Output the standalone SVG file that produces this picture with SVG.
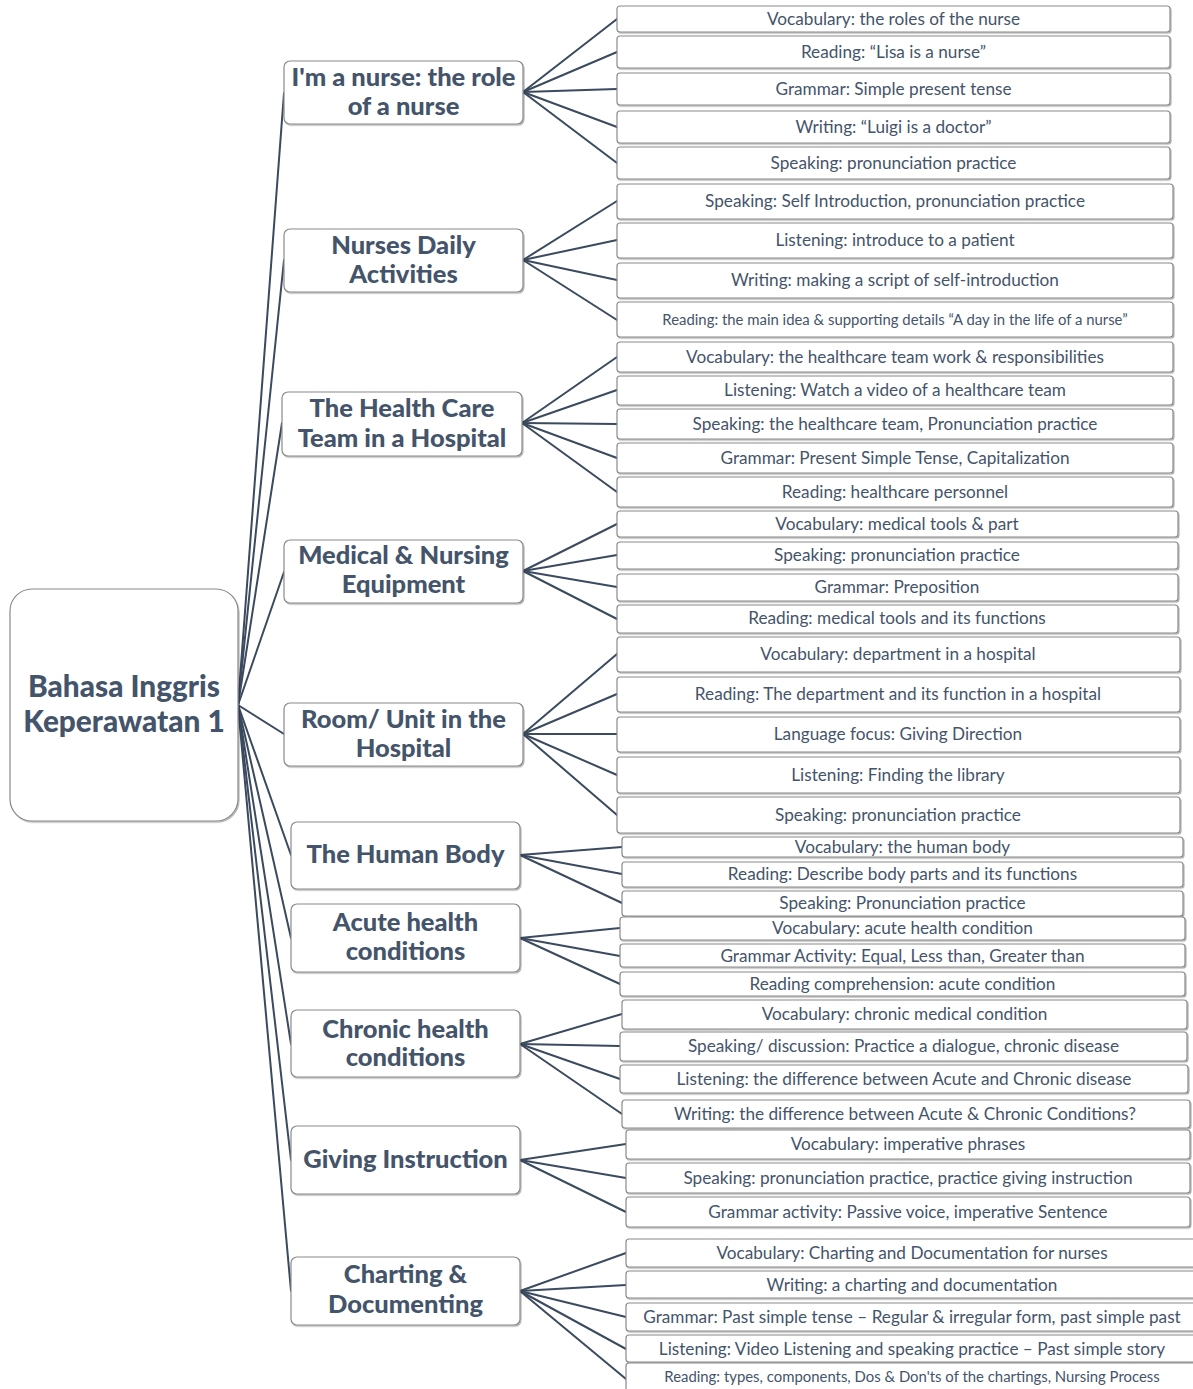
<svg xmlns="http://www.w3.org/2000/svg" width="1193" height="1389" viewBox="0 0 1193 1389">
<defs>
<filter id="sh" x="-5%" y="-20%" width="110%" height="150%">
<feDropShadow dx="1" dy="1.2" stdDeviation="0.7" flood-color="#000" flood-opacity="0.3"/>
</filter>
<style>
.bg{fill:#fff}
.box{fill:#fff;stroke:#8a8a8a;stroke-width:1.2;filter:url(#sh)}
.conn line{stroke:#3b4a5e;stroke-width:2;stroke-linecap:round}
text{font-family:Lato,"Liberation Sans",sans-serif;fill:#44546a;text-anchor:middle}
.c{font-size:17.2px}
.cs{font-size:14.9px}
.t{font-size:25.5px;font-weight:900}
.m{font-size:29.8px;font-weight:900}
</style>
</defs>
<rect class="bg" x="0" y="0" width="1193" height="1389"/>
<g id="connectors" class="conn">
<line x1="238" y1="705" x2="284" y2="93"/>
<line x1="238" y1="705" x2="284" y2="260"/>
<line x1="238" y1="705" x2="282" y2="423"/>
<line x1="238" y1="705" x2="284" y2="572"/>
<line x1="238" y1="705" x2="284" y2="734"/>
<line x1="238" y1="705" x2="291" y2="855"/>
<line x1="238" y1="705" x2="291" y2="938"/>
<line x1="238" y1="705" x2="291" y2="1044"/>
<line x1="238" y1="705" x2="291" y2="1160"/>
<line x1="238" y1="705" x2="291" y2="1291"/>
<line x1="523" y1="92" x2="617" y2="19"/>
<line x1="523" y1="92" x2="617" y2="52"/>
<line x1="523" y1="92" x2="617" y2="89"/>
<line x1="523" y1="92" x2="617" y2="127"/>
<line x1="523" y1="92" x2="617" y2="163"/>
<line x1="523" y1="260" x2="617" y2="201"/>
<line x1="523" y1="260" x2="617" y2="240"/>
<line x1="523" y1="260" x2="617" y2="280"/>
<line x1="523" y1="260" x2="617" y2="320"/>
<line x1="522" y1="423" x2="617" y2="357"/>
<line x1="522" y1="423" x2="617" y2="390"/>
<line x1="522" y1="423" x2="617" y2="424"/>
<line x1="522" y1="423" x2="617" y2="458"/>
<line x1="522" y1="423" x2="617" y2="492"/>
<line x1="523" y1="571" x2="617" y2="524"/>
<line x1="523" y1="571" x2="617" y2="555"/>
<line x1="523" y1="571" x2="617" y2="587"/>
<line x1="523" y1="571" x2="617" y2="619"/>
<line x1="523" y1="734" x2="617" y2="654"/>
<line x1="523" y1="734" x2="617" y2="694"/>
<line x1="523" y1="734" x2="617" y2="734"/>
<line x1="523" y1="734" x2="617" y2="775"/>
<line x1="523" y1="734" x2="617" y2="815"/>
<line x1="520" y1="855" x2="622" y2="847"/>
<line x1="520" y1="855" x2="622" y2="874"/>
<line x1="520" y1="855" x2="622" y2="903"/>
<line x1="520" y1="938" x2="620" y2="928"/>
<line x1="520" y1="938" x2="620" y2="956"/>
<line x1="520" y1="938" x2="620" y2="984"/>
<line x1="520" y1="1044" x2="622" y2="1014"/>
<line x1="520" y1="1044" x2="620" y2="1046"/>
<line x1="520" y1="1044" x2="620" y2="1079"/>
<line x1="520" y1="1044" x2="622" y2="1114"/>
<line x1="520" y1="1160" x2="626" y2="1144"/>
<line x1="520" y1="1160" x2="626" y2="1178"/>
<line x1="520" y1="1160" x2="626" y2="1212"/>
<line x1="520" y1="1291" x2="626" y2="1253"/>
<line x1="520" y1="1291" x2="626" y2="1285"/>
<line x1="520" y1="1291" x2="626" y2="1317"/>
<line x1="520" y1="1291" x2="626" y2="1349"/>
<line x1="520" y1="1291" x2="626" y2="1379"/>
</g>

<g id="root">
<rect class="box" x="10" y="589" width="228" height="232" rx="22"/>
<text class="m" x="124" y="697">Bahasa Inggris</text>
<text class="m" x="124" y="732">Keperawatan 1</text>
</g>

<g id="topic1">
<rect class="box" x="284" y="61" width="239" height="63" rx="6"/>
<text class="t" x="403.5" y="86">I'm a nurse: the role</text>
<text class="t" x="403.5" y="115">of a nurse</text>
</g>
<g id="topic2">
<rect class="box" x="284" y="229" width="239" height="63" rx="6"/>
<text class="t" x="403.5" y="254">Nurses Daily</text>
<text class="t" x="403.5" y="283">Activities</text>
</g>
<g id="topic3">
<rect class="box" x="282" y="392" width="240" height="64" rx="6"/>
<text class="t" x="402" y="417">The Health Care</text>
<text class="t" x="402" y="447">Team in a Hospital</text>
</g>
<g id="topic4">
<rect class="box" x="284" y="540" width="239" height="63" rx="6"/>
<text class="t" x="403.5" y="564">Medical &amp; Nursing</text>
<text class="t" x="403.5" y="593">Equipment</text>
</g>
<g id="topic5">
<rect class="box" x="284" y="703" width="239" height="63" rx="6"/>
<text class="t" x="403.5" y="728">Room/ Unit in the</text>
<text class="t" x="403.5" y="757">Hospital</text>
</g>
<g id="topic6">
<rect class="box" x="291" y="822" width="229" height="67" rx="6"/>
<text class="t" x="405.5" y="863">The Human Body</text>
</g>
<g id="topic7">
<rect class="box" x="291" y="904" width="229" height="68" rx="6"/>
<text class="t" x="405.5" y="931">Acute health</text>
<text class="t" x="405.5" y="960">conditions</text>
</g>
<g id="topic8">
<rect class="box" x="291" y="1010" width="229" height="67" rx="6"/>
<text class="t" x="405.5" y="1038">Chronic health</text>
<text class="t" x="405.5" y="1066">conditions</text>
</g>
<g id="topic9">
<rect class="box" x="291" y="1126" width="229" height="68" rx="6"/>
<text class="t" x="405.5" y="1168">Giving Instruction</text>
</g>
<g id="topic10">
<rect class="box" x="291" y="1257" width="229" height="68" rx="6"/>
<text class="t" x="405.5" y="1283">Charting &amp;</text>
<text class="t" x="405.5" y="1313">Documenting</text>
</g>

<g id="t1c1"><rect class="box" x="617" y="6" width="553" height="26" rx="3"/><text class="c" x="893.5" y="25">Vocabulary: the roles of the nurse</text></g>
<g id="t1c2"><rect class="box" x="617" y="36" width="553" height="32" rx="3"/><text class="c" x="893.5" y="58">Reading: “Lisa is a nurse”</text></g>
<g id="t1c3"><rect class="box" x="617" y="73" width="553" height="32" rx="3"/><text class="c" x="893.5" y="95">Grammar: Simple present tense</text></g>
<g id="t1c4"><rect class="box" x="617" y="111" width="553" height="32" rx="3"/><text class="c" x="893.5" y="132.5">Writing: “Luigi is a doctor”</text></g>
<g id="t1c5"><rect class="box" x="617" y="147" width="553" height="32" rx="3"/><text class="c" x="893.5" y="169">Speaking: pronunciation practice</text></g>

<g id="t2c1"><rect class="box" x="617" y="184" width="556" height="35" rx="3"/><text class="c" x="895" y="207">Speaking: Self Introduction, pronunciation practice</text></g>
<g id="t2c2"><rect class="box" x="617" y="223" width="556" height="35" rx="3"/><text class="c" x="895" y="246">Listening: introduce to a patient</text></g>
<g id="t2c3"><rect class="box" x="617" y="263" width="556" height="35" rx="3"/><text class="c" x="895" y="286">Writing: making a script of self-introduction</text></g>
<g id="t2c4"><rect class="box" x="617" y="302" width="556" height="35" rx="3"/><text class="cs" x="895" y="325">Reading: the main idea &amp; supporting details “A day in the life of a nurse”</text></g>

<g id="t3c1"><rect class="box" x="617" y="342" width="556" height="30" rx="3"/><text class="c" x="895" y="362.5">Vocabulary: the healthcare team work &amp; responsibilities</text></g>
<g id="t3c2"><rect class="box" x="617" y="376" width="556" height="29" rx="3"/><text class="c" x="895" y="396">Listening: Watch a video of a healthcare team</text></g>
<g id="t3c3"><rect class="box" x="617" y="409" width="556" height="30" rx="3"/><text class="c" x="895" y="430">Speaking: the healthcare team, Pronunciation practice</text></g>
<g id="t3c4"><rect class="box" x="617" y="443" width="556" height="30" rx="3"/><text class="c" x="895" y="463.5">Grammar: Present Simple Tense, Capitalization</text></g>
<g id="t3c5"><rect class="box" x="617" y="477" width="556" height="30" rx="3"/><text class="c" x="895" y="497.5">Reading: healthcare personnel</text></g>

<g id="t4c1"><rect class="box" x="617" y="511" width="561" height="26" rx="3"/><text class="c" x="897" y="530">Vocabulary: medical tools &amp; part</text></g>
<g id="t4c2"><rect class="box" x="617" y="542" width="561" height="27" rx="3"/><text class="c" x="897" y="561">Speaking: pronunciation practice</text></g>
<g id="t4c3"><rect class="box" x="617" y="574" width="561" height="27" rx="3"/><text class="c" x="897" y="593">Grammar: Preposition</text></g>
<g id="t4c4"><rect class="box" x="617" y="605" width="561" height="28" rx="3"/><text class="c" x="897" y="624">Reading: medical tools and its functions</text></g>

<g id="t5c1"><rect class="box" x="617" y="637" width="563" height="35" rx="3"/><text class="c" x="898" y="660">Vocabulary: department in a hospital</text></g>
<g id="t5c2"><rect class="box" x="617" y="677" width="563" height="35" rx="3"/><text class="c" x="898" y="700">Reading: The department and its function in a hospital</text></g>
<g id="t5c3"><rect class="box" x="617" y="717" width="563" height="35" rx="3"/><text class="c" x="898" y="740">Language focus: Giving Direction</text></g>
<g id="t5c4"><rect class="box" x="617" y="757" width="563" height="36" rx="3"/><text class="c" x="898" y="781">Listening: Finding the library</text></g>
<g id="t5c5"><rect class="box" x="617" y="797" width="563" height="36" rx="3"/><text class="c" x="898" y="821">Speaking: pronunciation practice</text></g>

<g id="t6c1"><rect class="box" x="622" y="837" width="561" height="20" rx="3"/><text class="c" x="902.5" y="853">Vocabulary: the human body</text></g>
<g id="t6c2"><rect class="box" x="622" y="862" width="561" height="25" rx="3"/><text class="c" x="902.5" y="880">Reading: Describe body parts and its functions</text></g>
<g id="t6c3"><rect class="box" x="622" y="891" width="561" height="25" rx="3"/><text class="c" x="902.5" y="909">Speaking: Pronunciation practice</text></g>

<g id="t7c1"><rect class="box" x="620" y="917" width="565" height="23" rx="3"/><text class="c" x="902.5" y="934">Vocabulary: acute health condition</text></g>
<g id="t7c2"><rect class="box" x="620" y="944" width="565" height="23" rx="3"/><text class="c" x="902.5" y="962">Grammar Activity: Equal, Less than, Greater than</text></g>
<g id="t7c3"><rect class="box" x="620" y="972" width="565" height="24" rx="3"/><text class="c" x="902.5" y="989.5">Reading comprehension: acute condition</text></g>

<g id="t8c1"><rect class="box" x="622" y="1000" width="565" height="29" rx="3"/><text class="c" x="904.5" y="1020">Vocabulary: chronic medical condition</text></g>
<g id="t8c2"><rect class="box" x="620" y="1032" width="567" height="29" rx="3"/><text class="c" x="903.5" y="1052">Speaking/ discussion: Practice a dialogue, chronic disease</text></g>
<g id="t8c3"><rect class="box" x="620" y="1065" width="568" height="28" rx="3"/><text class="c" x="904" y="1084.5">Listening: the difference between Acute and Chronic disease</text></g>
<g id="t8c4"><rect class="box" x="622" y="1100" width="568" height="28" rx="3"/><text class="c" x="905" y="1120">Writing: the difference between Acute &amp; Chronic Conditions?</text></g>

<g id="t9c1"><rect class="box" x="626" y="1130" width="564" height="29" rx="3"/><text class="c" x="908" y="1150">Vocabulary: imperative phrases</text></g>
<g id="t9c2"><rect class="box" x="626" y="1163" width="564" height="30" rx="3"/><text class="c" x="908" y="1184">Speaking: pronunciation practice, practice giving instruction</text></g>
<g id="t9c3"><rect class="box" x="626" y="1197" width="564" height="30" rx="3"/><text class="c" x="908" y="1218">Grammar activity: Passive voice, imperative Sentence</text></g>

<g id="t10c1"><rect class="box" x="626" y="1239" width="574" height="28" rx="3"/><text class="c" x="912" y="1259">Vocabulary: Charting and Documentation for nurses</text></g>
<g id="t10c2"><rect class="box" x="626" y="1271" width="574" height="27" rx="3"/><text class="c" x="912" y="1290.5">Writing: a charting and documentation</text></g>
<g id="t10c3"><rect class="box" x="626" y="1303" width="574" height="28" rx="3"/><text class="c" x="912" y="1322.5">Grammar: Past simple tense – Regular &amp; irregular form, past simple past</text></g>
<g id="t10c4"><rect class="box" x="626" y="1335" width="574" height="27" rx="3"/><text class="c" x="912" y="1354.5">Listening: Video Listening and speaking practice – Past simple story</text></g>
<g id="t10c5"><rect class="box" x="626" y="1363" width="574" height="32" rx="3"/><text class="cs" x="912" y="1381.5">Reading: types, components, Dos &amp; Don'ts of the chartings, Nursing Process</text></g>
</svg>
